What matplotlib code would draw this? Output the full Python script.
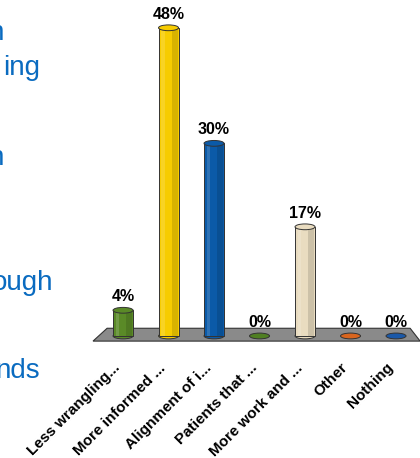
import matplotlib.pyplot as plt
import numpy as np
from matplotlib.patches import Ellipse, Polygon
from matplotlib.transforms import ScaledTranslation

plt.rcParams['font.family'] = ['Liberation Sans', 'DejaVu Sans']

# Data
categories = ["Less wrangling...", "More informed ...", "Alignment of i...",
              "Patients that ...", "More work and ...", "Other", "Nothing"]
values = [4, 48, 30, 0, 17, 0, 0]
colors = ["#5a8a27", "#f7cc00", "#0b5aa8", "#4f7f22", "#e9dcc0", "#d9651e", "#1a58a8"]
side_text = ["n", "ing", "n", "ough", "nds"]

fig = plt.figure(figsize=(4.2, 4.58), dpi=100)
ax = fig.add_axes([0.2117, 0.2384, 0.7908, 0.757])
ax.set_xlim(-0.75, 6.55)
ax.set_ylim(-2, 52)

# gray floor
floor = Polygon([(-0.66, -0.8), (-0.35, 1.2), (6.31, 1.2), (6.53, -0.8)],
                closed=True, facecolor="#8a8a8a", edgecolor="#333333", lw=0.8, zorder=1)
ax.add_patch(floor)

x = np.arange(len(categories))
w = 0.44
ell_h = 0.9
for xi, v, c in zip(x, values, colors):
    if v > 0:
        ax.bar(xi, v, width=w, color=c, edgecolor="#333333", lw=0.7, zorder=2)
        # simple cylinder shading
        ax.bar(xi + w * 0.3, v, width=w * 0.3, color="black", alpha=0.12, lw=0, zorder=2.1)
        ax.bar(xi - w * 0.28, v, width=w * 0.18, color="white", alpha=0.15, lw=0, zorder=2.1)
        ax.add_patch(Ellipse((xi, 0), w, ell_h, facecolor=c, edgecolor="#333333", lw=0.7, zorder=1.5))
        ax.add_patch(Ellipse((xi, v), w, ell_h, facecolor=c, edgecolor="#333333", lw=0.7, zorder=3))
    else:
        ax.add_patch(Ellipse((xi, 0), w, ell_h, facecolor=c, edgecolor="#333333", lw=0.7, zorder=3))
    ax.annotate(f"{v}%", (xi, v), xytext=(0, 4.5), textcoords="offset points",
                ha="center", va="bottom", fontsize=11.5, fontweight="bold")

ax.set_xticks(x)
ax.set_xticklabels(categories, rotation=45, ha="right", rotation_mode="anchor",
                   fontsize=11, fontweight="bold")
ax.tick_params(axis="x", length=0, pad=2)
shift = ScaledTranslation(-0.10, -0.09, fig.dpi_scale_trans)
for lab in ax.get_xticklabels():
    lab.set_transform(lab.get_transform() + shift)
ax.set_yticks([])
for s in ax.spines.values():
    s.set_visible(False)
ax.patch.set_alpha(0)

# cut-off slide text on the left
ys = [40, 75, 165, 290, 378]
xs = [4, 40, 4, 53, 40]
for t, xp, yp in zip(side_text, xs, ys):
    fig.text(xp / 420, 1 - yp / 458, t, ha="right", va="baseline",
             fontsize=20, color="#0a6bc0")

fig.savefig("out.png", dpi=100)
